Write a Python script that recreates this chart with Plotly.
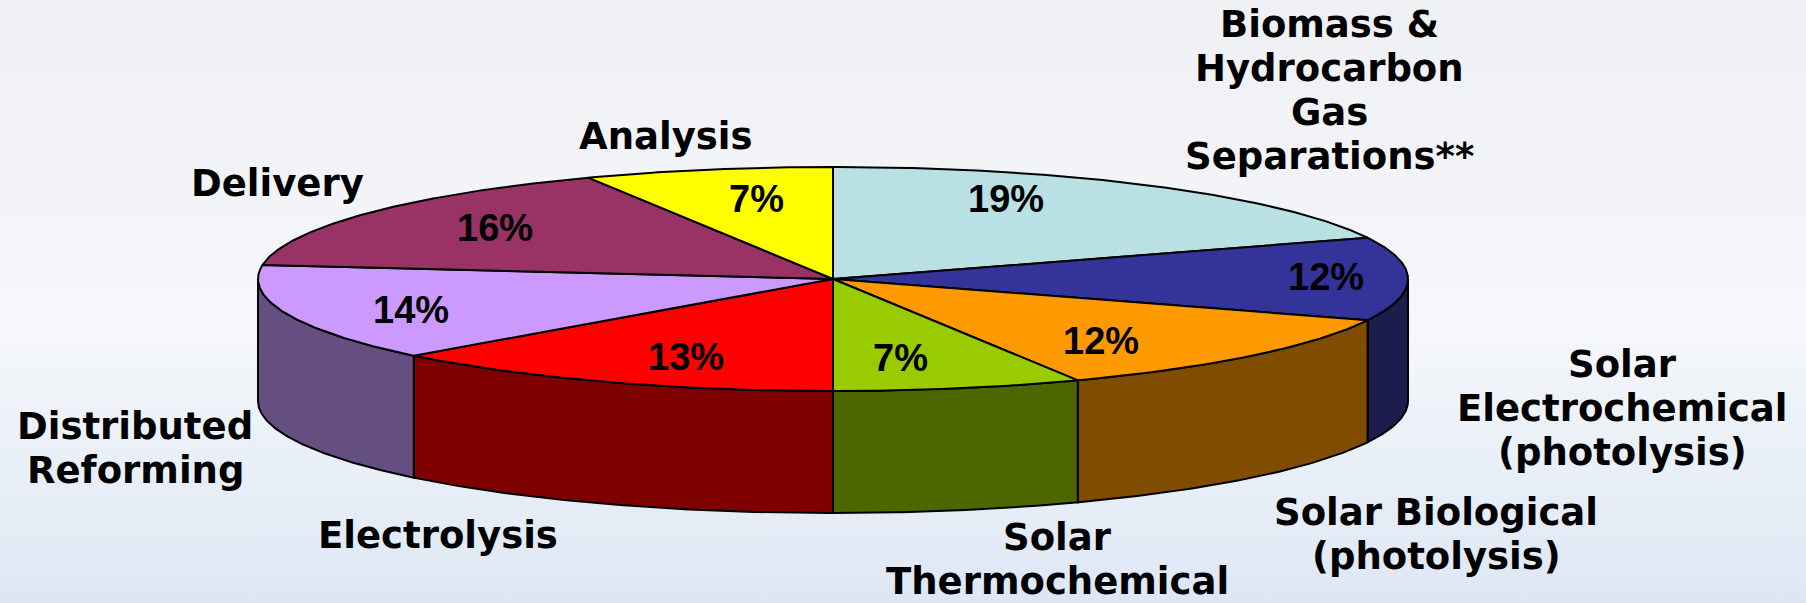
import numpy as np
import plotly.graph_objects as go

# ---------------- data ----------------
categories = [
    "Biomass & Hydrocarbon Gas Separations**",
    "Solar Electrochemical (photolysis)",
    "Solar Biological (photolysis)",
    "Solar Thermochemical",
    "Electrolysis",
    "Distributed Reforming",
    "Delivery",
    "Analysis",
]
shares = [19, 12, 12, 7, 13, 14, 16, 7]
label_lines = [
    ["Biomass &", "Hydrocarbon", "Gas", "Separations**"],
    ["Solar", "Electrochemical", "(photolysis)"],
    ["Solar Biological", "(photolysis)"],
    ["Solar", "Thermochemical"],
    ["Electrolysis"],
    ["Distributed", "Reforming"],
    ["Delivery"],
    ["Analysis"],
]

# ---------------- styles / layout ----------------
top_colors = ["#B9E0E3", "#333399", "#FF9900", "#99CC00", "#FF0000", "#CC99FF", "#993366", "#FFFF00"]
side_colors = ["#5C7072", "#1C1C4D", "#7F4C00", "#4C6600", "#7F0000", "#654E80", "#4C1933", "#7F7F00"]
# first-line centre of each category label (pixels)
name_pos = [(1329, 24), (1622, 364), (1436, 512), (1057, 537), (438, 535), (135, 426), (277, 183), (665, 136)]
line_gap = 44
# percentage label centres (pixels)
pct_pos = [(1006, 199), (1326, 277), (1101, 341), (900, 358), (686, 357), (411, 310), (495, 228), (756, 199)]

W, H = 1806, 603
cx, cy, rx, ry, depth = 833, 279, 575, 112, 122

fig = go.Figure()

# background gradient (light grey at top, pale sky blue at bottom)
fig.add_trace(go.Scatter(
    x=[0, W, W, 0, 0], y=[0, 0, H, H, 0], mode="lines", fill="toself",
    line=dict(width=0, color="rgba(0,0,0,0)"),
    fillgradient=dict(type="vertical",
                      colorscale=[[0, "#DDE7F4"], [0.45, "#F5F7FA"], [1, "#EEF0F3"]]),
    hoverinfo="skip", showlegend=False))

total = float(sum(shares))
cum = np.concatenate([[0.0], np.cumsum(shares)]) / total * 360.0


def arc(a0, a1, dy=0.0):
    n = max(int(abs(a1 - a0) * 2) + 2, 3)
    t = np.radians(np.linspace(a0, a1, n))
    return cx + rx * np.sin(t), cy - ry * np.cos(t) + dy


# side walls (front half only: 90..270 degrees clockwise from top)
for i, v in enumerate(shares):
    a0, a1 = cum[i], cum[i + 1]
    lo, hi = max(a0, 90.0), min(a1, 270.0)
    if lo < hi:
        xt, yt = arc(lo, hi)
        xb, yb = arc(hi, lo, depth)
        xs = np.concatenate([xt, xb, xt[:1]])
        ys = np.concatenate([yt, yb, yt[:1]])
        fig.add_trace(go.Scatter(
            x=xs, y=ys, mode="lines", fill="toself", fillcolor=side_colors[i],
            line=dict(color="black", width=2), hoverinfo="skip", showlegend=False))

# top faces
for i, v in enumerate(shares):
    a0, a1 = cum[i], cum[i + 1]
    xa, ya = arc(a0, a1)
    xs = np.concatenate([[cx], xa, [cx]])
    ys = np.concatenate([[cy], ya, [cy]])
    fig.add_trace(go.Scatter(
        x=xs, y=ys, mode="lines", fill="toself", fillcolor=top_colors[i],
        line=dict(color="black", width=2), name=categories[i],
        hoverinfo="text", text=f"{categories[i]}: {v}%", showlegend=False))

ann = []
for i, v in enumerate(shares):
    px, py = pct_pos[i]
    ann.append(dict(x=px, y=py, xref="x", yref="y", text=f"{v}%", showarrow=False,
                    xanchor="center", yanchor="middle",
                    font=dict(family="Liberation Sans, Arial, sans-serif", size=38,
                              color="black", weight="bold")))
    nx, ny = name_pos[i]
    for k, line in enumerate(label_lines[i]):
        ann.append(dict(x=nx, y=ny + k * line_gap, xref="x", yref="y", text=line,
                        showarrow=False, xanchor="center", yanchor="middle",
                        font=dict(family="DejaVu Sans, sans-serif", size=37,
                                  color="black", weight="bold")))

fig.update_layout(
    width=W, height=H, margin=dict(l=0, r=0, t=0, b=0, pad=0),
    paper_bgcolor="#F3F5F9", plot_bgcolor="#F3F5F9",
    xaxis=dict(range=[0, W], visible=False, fixedrange=True),
    yaxis=dict(range=[H, 0], visible=False, fixedrange=True),
    showlegend=False, annotations=ann,
)

fig.write_html("out.html")
